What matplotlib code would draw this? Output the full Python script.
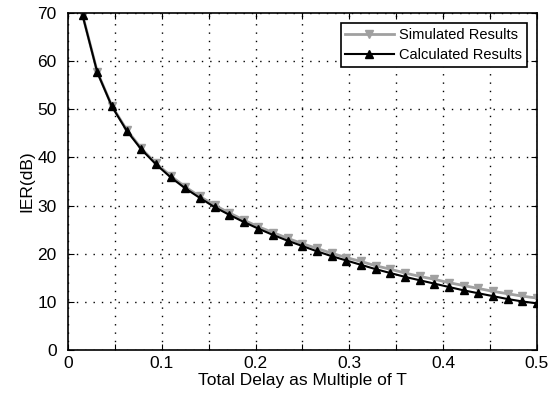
import numpy as np
import matplotlib
matplotlib.use('Agg')
import matplotlib.pyplot as plt

plt.rcParams['font.family'] = ['Liberation Sans', 'DejaVu Sans']

# delay as multiple of T (steps of T/64)
delay = np.arange(1, 33) / 64.0

ier_calculated = [69.5, 57.7, 50.6, 45.6, 41.7, 38.6, 35.9, 33.6, 31.6, 29.7,
                  28.1, 26.6, 25.2, 23.9, 22.7, 21.6, 20.5, 19.5, 18.6, 17.7,
                  16.8, 16.0, 15.2, 14.5, 13.8, 13.1, 12.4, 11.8, 11.2, 10.6,
                  10.1, 9.7]
ier_simulated = [69.6, 57.8, 50.7, 45.8, 41.9, 38.8, 36.2, 33.9, 31.9, 30.1,
                 28.5, 27.0, 25.6, 24.4, 23.2, 22.1, 21.1, 20.1, 19.2, 18.4,
                 17.5, 16.8, 16.0, 15.3, 14.7, 14.0, 13.4, 12.8, 12.2, 11.7,
                 11.2, 10.8]

fig = plt.figure(figsize=(5.57, 3.96), dpi=100)
ax = fig.add_axes([0.122, 0.116, 0.842, 0.851])

ax.plot(delay, ier_simulated, color='#a0a0a0', linewidth=2, marker='v',
        markersize=6, label='Simulated Results')
ax.plot(delay, ier_calculated, color='black', linewidth=1.5, marker='^',
        markersize=6, label='Calculated Results')

ax.set_xlim(0, 0.5)
ax.set_ylim(0, 70)
ax.set_xticks(np.arange(0, 0.501, 0.05))
ax.set_xticklabels(['0', '', '0.1', '', '0.2', '', '0.3', '', '0.4', '', '0.5'])
ax.set_yticks(np.arange(0, 71, 10))
ax.tick_params(direction='in', top=True, right=True, labelsize=12.5, length=4)
ax.tick_params(axis='y', pad=8)
ax.tick_params(axis='x', pad=4)
ax.grid(True, color='black', linestyle=(0, (1, 5)), linewidth=1)
for s in ax.spines.values():
    s.set_linewidth(1.2)

ax.set_xlabel('Total Delay as Multiple of T', fontsize=12.5, labelpad=2)
ax.set_ylabel('IER(dB)', fontsize=12.5, labelpad=2)

leg = ax.legend(loc='upper right', fontsize=10.5, fancybox=False, framealpha=1,
                edgecolor='black', handlelength=3.3, borderpad=0.3,
                labelspacing=0.45, borderaxespad=0.7, handletextpad=0.4)
leg.get_frame().set_linewidth(1.2)

plt.savefig('out.png', dpi=100)
